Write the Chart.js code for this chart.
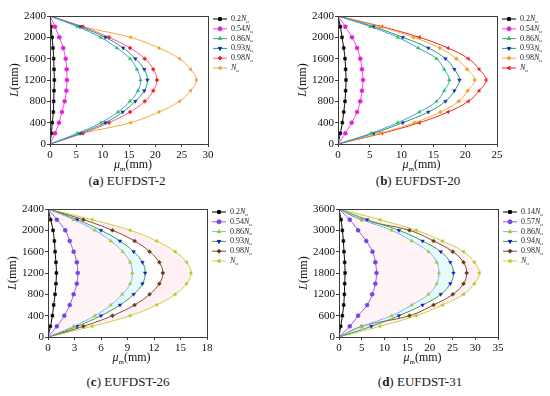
<!DOCTYPE html>
<html><head><meta charset="utf-8">
<script src="https://cdn.jsdelivr.net/npm/chart.js@4.4.1/dist/chart.umd.min.js"></script>
<style>
html,body{margin:0;padding:0;background:#fff;}
#wrap{position:relative;width:550px;height:396px;overflow:hidden;background:#fff;}
canvas{position:absolute;}
.cap{position:absolute;font-family:'Liberation Serif','Times New Roman',serif;font-size:13px;line-height:15px;color:#1a1a1a;white-space:nowrap;transform:translateX(-50%);}
</style></head><body>
<div id="wrap">
<canvas id="ca" width="275" height="172" style="left:0;top:0"></canvas>
<canvas id="cb" width="275" height="172" style="left:275px;top:0"></canvas>
<canvas id="cc" width="275" height="172" style="left:0;top:200px"></canvas>
<canvas id="cd" width="275" height="172" style="left:275px;top:200px"></canvas>
<div class="cap" style="left:127px;top:173px">(<b>a</b>) EUFDST-2</div>
<div class="cap" style="left:418px;top:173px">(<b>b</b>) EUFDST-20</div>
<div class="cap" style="left:128px;top:374px">(<b>c</b>) EUFDST-26</div>
<div class="cap" style="left:420px;top:374px">(<b>d</b>) EUFDST-31</div>
</div>
<script>
// ---- data ----
const L24 = [0,200,400,600,800,1000,1200,1400,1600,1800,2000,2200,2400];
const L36 = [0,300,600,900,1200,1500,1800,2100,2400,2700,3000,3300,3600];

const LOAD_A = ['0.2','0.54','0.86','0.93','0.98',''];
const LOAD_B = ['0.2','0.54','0.86','0.93','0.98',''];
const LOAD_C = ['0.2','0.54','0.86','0.93','0.98',''];
const LOAD_D = ['0.14','0.57','0.86','0.94','0.98',''];

const A1 = [0,0.25,0.44,0.63,0.70,0.76,0.82,0.76,0.70,0.57,0.40,0.20,0];
const A2 = [0,0.95,1.70,2.27,2.78,3.10,3.22,3.16,2.97,2.50,1.77,0.95,0];
const A3 = [0,5.2,9.7,12.9,15.2,16.7,17.2,16.5,15.2,12.7,9.6,5.2,0];
const A4 = [0,5.7,10.5,13.8,16.2,17.9,18.5,17.9,16.2,13.9,10.5,5.7,0];
const A5 = [0,6.2,11.2,15.2,18.0,19.6,20.3,19.6,18.0,15.2,11.2,6.2,0];
const A6 = [0,6.3,15.3,20.7,24.6,26.7,27.8,26.7,24.6,20.7,15.3,6.3,0];

const B1 = [0,0.37,0.68,0.90,1.10,1.20,1.26,1.20,1.10,0.90,0.63,0.37,0];
const B2 = [0,1.15,2.15,3.00,3.50,3.77,3.93,3.77,3.50,3.00,2.20,1.15,0];
const B3 = [0,5.2,9.4,12.8,15.5,16.7,17.5,16.7,15.5,12.6,9.4,5.1,0];
const B4 = [0,5.6,10.2,14.2,16.9,18.3,19.1,18.3,16.9,14.2,10.2,5.6,0];
const B5 = [0,6.55,12.05,16.1,19.0,20.4,21.5,20.3,18.6,16.0,11.9,6.55,0];
const B6 = [0,6.9,12.8,17.3,20.5,22.2,23.3,22.2,20.5,17.3,12.8,6.9,0];

const C1 = [0,0.27,0.50,0.64,0.80,0.90,0.95,0.90,0.80,0.72,0.57,0.30,0];
const C2 = [0,1.0,1.85,2.46,2.90,3.26,3.37,3.26,2.90,2.46,1.95,1.0,0];
const C3 = [0,2.9,5.3,7.1,8.4,9.3,9.55,9.3,8.45,7.1,5.3,2.9,0];
const C4 = [0,3.3,6.0,8.15,9.7,10.7,11.0,10.7,9.7,8.15,6.0,3.3,0];
const C5 = [0,4.0,7.3,9.8,11.5,12.6,13.0,12.6,11.5,9.8,7.3,4.0,0];
const C6 = [0,5.0,9.3,12.3,14.4,15.7,16.2,15.7,14.4,12.3,9.3,5.0,0];

const D1 = [0,0.37,0.74,1.03,1.18,1.25,1.33,1.25,1.10,0.96,0.74,0.44,0];
const D2 = [0,2.36,4.2,6.2,7.3,8.0,8.25,8.0,7.37,6.0,4.2,2.36,0];
const D3 = [0,5.0,11.6,16.0,19.7,21.5,22.0,21.5,19.7,16.0,11.6,5.0,0];
const D4 = [0,7.1,13.2,18.4,22.4,24.5,25.2,24.5,22.4,18.4,13.2,6.2,0];
const D5 = [0,5.0,15.5,20.8,25.05,27.4,28.1,27.4,25.05,20.8,15.5,5.0,0];
const D6 = [0,9.0,17.0,22.8,27.4,29.8,30.9,29.8,27.4,22.8,17.0,9.0,0];

// ---- styles ----
const FAM = "'Liberation Serif','Times New Roman',serif";
const SHAPES = [['rect',0],['circle',0],['triangle',0],['triangle',180],['rectRot',0],['triangle',270]];
const PAL_A = [['#000000','#000000'],['#ff3fd2','#e020e0'],['#4a94dc','#22cc44'],['#1f9c7c','#1426c4'],['#ff5a78','#ee2233'],['#f2aa3c','#f0a030']];
const PAL_B = [['#000000','#000000'],['#ff3fd2','#e020e0'],['#4a94dc','#22cc44'],['#1f9c7c','#1426c4'],['#f2aa3c','#f0a030'],['#ee2222','#ee2222']];
const PAL_C = [['#000000','#000000'],['#9a5ae0','#7444e0'],['#82b6ea','#9acd32'],['#3e9a52','#1818c8'],['#8b4a2a','#6b3a1a'],['#cfcf40','#b4c824']];
const FILL_NONE = [false,false,false,false,false,false];
const FILL_C = [false,false,'rgba(255,200,222,0.18)','rgba(185,240,248,0.35)',false,'rgba(255,205,222,0.30)'];

function drawParts(ctx, list, x, y, size, align){
  const fonts = list.map(p => p[1]==='i' ? `italic ${size}px ${FAM}` : p[1]==='s' ? `${Math.round(size*0.62)}px ${FAM}` : `${size}px ${FAM}`);
  let w = 0;
  const ws = list.map((p,i)=>{ctx.font=fonts[i]; const m=ctx.measureText(p[0]).width; w+=m; return m;});
  let cx = align==='center' ? x - w/2 : x;
  ctx.textBaseline='middle'; ctx.textAlign='left';
  list.forEach((p,i)=>{ ctx.font=fonts[i]; ctx.fillText(p[0], cx, y + (p[1]==='s' ? size*0.32 : 0)); cx += ws[i]; });
}

function marker(ctx, style, rot, r, x, y){
  if (Chart.helpers && Chart.helpers.drawPoint) {
    Chart.helpers.drawPoint(ctx, {pointStyle:style, radius:r, rotation:rot, borderWidth:0.5}, x, y);
  } else { ctx.beginPath(); ctx.arc(x,y,r,0,Math.PI*2); ctx.fill(); }
}

const deco = {
  id:'deco',
  afterDraw(chart){
    const o = chart.config.options.plugins.deco;
    const ctx = chart.ctx, a = chart.chartArea;
    ctx.save();
    ctx.strokeStyle='#3c3c3c'; ctx.lineWidth=1;
    ctx.strokeRect(Math.round(a.left)+0.5, Math.round(a.top)+0.5, Math.round(a.right)-Math.round(a.left), Math.round(a.bottom)-Math.round(a.top));
    ctx.fillStyle='#111';
    drawParts(ctx, [['μ','i'],['m','s'],['(mm)','n']], (a.left+a.right)/2 + 4, a.bottom + 21, 12, 'center');
    ctx.save(); ctx.translate(a.left - 35, (a.top+a.bottom)/2); ctx.rotate(-Math.PI/2);
    drawParts(ctx, [['L','i'],['(mm)','n']], 0, 0, 12, 'center');
    ctx.restore();
    const x0 = a.right + 5;
    chart.data.datasets.forEach((ds,i)=>{
      const y = a.top + 3 + i*9.8;
      ctx.strokeStyle = ds.borderColor; ctx.lineWidth = 1;
      ctx.beginPath(); ctx.moveTo(x0, y); ctx.lineTo(x0+14, y); ctx.stroke();
      ctx.fillStyle = ds.pointBackgroundColor; ctx.strokeStyle = ds.pointBackgroundColor;
      marker(ctx, ds.pointStyle, ds.pointRotation, 2, x0+7, y);
      ctx.fillStyle='#222';
      drawParts(ctx, [[o.loads[i],'n'],['N','i'],['u','s']], x0+18, y, 8, 'left');
    });
    ctx.restore();
  }
};

function makeChart(id, ys, series, loads, pal, fills, xmax, xstep, ymax, ystep, pad){
  const datasets = series.map((arr,i)=>({
    data: ys.map((l,k)=>({x:arr[k], y:l})),
    borderColor: pal[i][0],
    pointBackgroundColor: pal[i][1],
    pointBorderColor: pal[i][1],
    pointBorderWidth: 0.5,
    pointStyle: SHAPES[i][0],
    pointRotation: SHAPES[i][1],
    pointRadius: ctx => (ctx.raw && ctx.raw.x === 0 ? 0 : 2),
    borderWidth: 1,
    showLine: true,
    tension: 0.4,
    indexAxis: 'y',
    fill: fills[i] ? '-1' : false,
    backgroundColor: fills[i] || 'rgba(0,0,0,0)'
  }));
  const tickFont = {family: FAM, size: 11};
  return new Chart(document.getElementById(id), {
    type:'scatter',
    data:{datasets},
    options:{
      responsive:false, animation:false, devicePixelRatio:1,
      layout:{padding:{left:0, top:pad.top, right:pad.right, bottom:0}},
      plugins:{legend:{display:false}, tooltip:{enabled:false}, deco:{loads}, filler:{propagate:false}},
      scales:{
        x:{type:'linear', min:0, max:xmax,
           ticks:{stepSize:xstep, font:tickFont, color:'#111', padding:2, maxRotation:0, callback:v=>String(v)},
           grid:{drawOnChartArea:false, drawTicks:true, tickLength:3, color:'#3c3c3c'},
           border:{display:false},
           afterFit: s => { s.height = pad.xh; }},
        y:{type:'linear', min:0, max:ymax,
           ticks:{stepSize:ystep, font:tickFont, color:'#111', padding:1, callback:v=>String(v)},
           grid:{drawOnChartArea:false, drawTicks:true, tickLength:3, color:'#3c3c3c'},
           border:{display:false},
           afterFit: s => { s.width = pad.left; }}
      }
    },
    plugins:[deco]
  });
}

makeChart('ca', L24, [A1,A2,A3,A4,A5,A6], LOAD_A, PAL_A, FILL_NONE, 30, 5, 2400, 400, {top:16, right:67, left:50, xh:28});
makeChart('cb', L24, [B1,B2,B3,B4,B5,B6], LOAD_B, PAL_B, FILL_NONE, 25, 5, 2400, 400, {top:16, right:53, left:63, xh:28});
makeChart('cc', L24, [C1,C2,C3,C4,C5,C6], LOAD_C, PAL_C, FILL_C, 18, 3, 2400, 400, {top:9, right:68, left:48, xh:35});
makeChart('cd', L36, [D1,D2,D3,D4,D5,D6], LOAD_D, PAL_C, FILL_C, 35, 5, 3600, 600, {top:9, right:52, left:64, xh:35});
</script>
</body></html>
